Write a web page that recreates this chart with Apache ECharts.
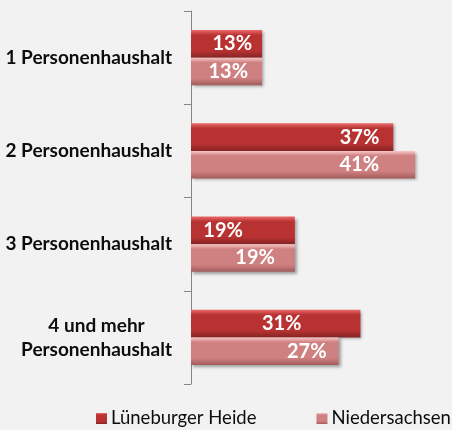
<!DOCTYPE html>
<html>
<head>
<meta charset="utf-8">
<script src="https://cdn.jsdelivr.net/npm/echarts@6/dist/echarts.min.js"></script>
<style>
html,body{margin:0;padding:0;background:#f2f2f2;}
#chart{width:452px;height:430px;}
</style>
</head>
<body>
<div id="chart"></div>
<script>
const categories = ['1 Personenhaushalt', '2 Personenhaushalt', '3 Personenhaushalt', '4 und mehr\nPersonenhaushalt'];
const seriesNames = ['Lüneburger Heide', 'Niedersachsen'];
const lueneburgerHeide = [13, 37, 19, 31];
const niedersachsen = [13, 41, 19, 27];

// label insets from the bar end (styling, mimicking the original manual label placement)
const labelInsetLH = [10, 14, 52, 59];
const labelInsetNS = [14, 36, 20, 12];

const chart = echarts.init(document.getElementById('chart'));

function grad(top, mid, bot) {
  return new echarts.graphic.LinearGradient(0, 0, 0, 1, [
    {offset: 0, color: top},
    {offset: 0.18, color: mid},
    {offset: 0.75, color: mid},
    {offset: 1, color: bot}
  ]);
}
const colLH = grad('#ec6a6a', '#b83232', '#862424');
const colNS = grad('#fac8c8', '#cf8080', '#a45c5c');

function makeData(vals, insets) {
  return vals.map((v, i) => ({
    value: v,
    label: {distance: insets[i]}
  }));
}

const labelBase = {
  show: true,
  position: 'insideRight',
  formatter: '{c}%',
  color: '#ffffff',
  fontFamily: 'Lato',
  fontWeight: 'bold',
  fontSize: 20
};
const shadow = {shadowColor: 'rgba(0,0,0,0.35)', shadowBlur: 3, shadowOffsetX: 2, shadowOffsetY: 2};

chart.setOption({
  backgroundColor: '#f2f2f2',
  animation: false,
  grid: {left: 191, top: 11, width: 246, height: 373, containLabel: false},
  xAxis: {
    type: 'value', min: 0, max: 45, show: false
  },
  yAxis: {
    type: 'category',
    data: categories,
    inverse: true,
    axisLine: {show: true, lineStyle: {color: '#868686', width: 1}},
    axisTick: {show: true, length: 7, lineStyle: {color: '#868686'}},
    axisLabel: {
      margin: 19,
      formatter: function (v) {
        return v.split('\n').map(s => '{c|' + s + '}').join('\n');
      },
      rich: {
        c: {
          fontFamily: 'Lato', fontWeight: 'bold', fontSize: 19, color: '#0d0d0d',
          align: 'center', lineHeight: 24
        }
      }
    },
    splitLine: {show: false}
  },
  legend: {
    top: 409,
    left: 96,
    padding: 0,
    itemWidth: 11,
    itemHeight: 11,
    itemGap: 60,
    icon: 'rect',
    textStyle: {fontFamily: 'Lato', fontSize: 18.5, color: '#0d0d0d', padding: [0, 0, 0, -1]},
    data: seriesNames
  },
  series: [
    {
      name: seriesNames[0], type: 'bar', data: makeData(lueneburgerHeide, labelInsetLH),
      barGap: '0%', barCategoryGap: '41%',
      itemStyle: Object.assign({color: colLH}, shadow),
      label: labelBase
    },
    {
      name: seriesNames[1], type: 'bar', data: makeData(niedersachsen, labelInsetNS),
      barGap: '0%', barCategoryGap: '41%',
      itemStyle: Object.assign({color: colNS}, shadow),
      label: labelBase
    }
  ]
});
</script>
</body>
</html>
